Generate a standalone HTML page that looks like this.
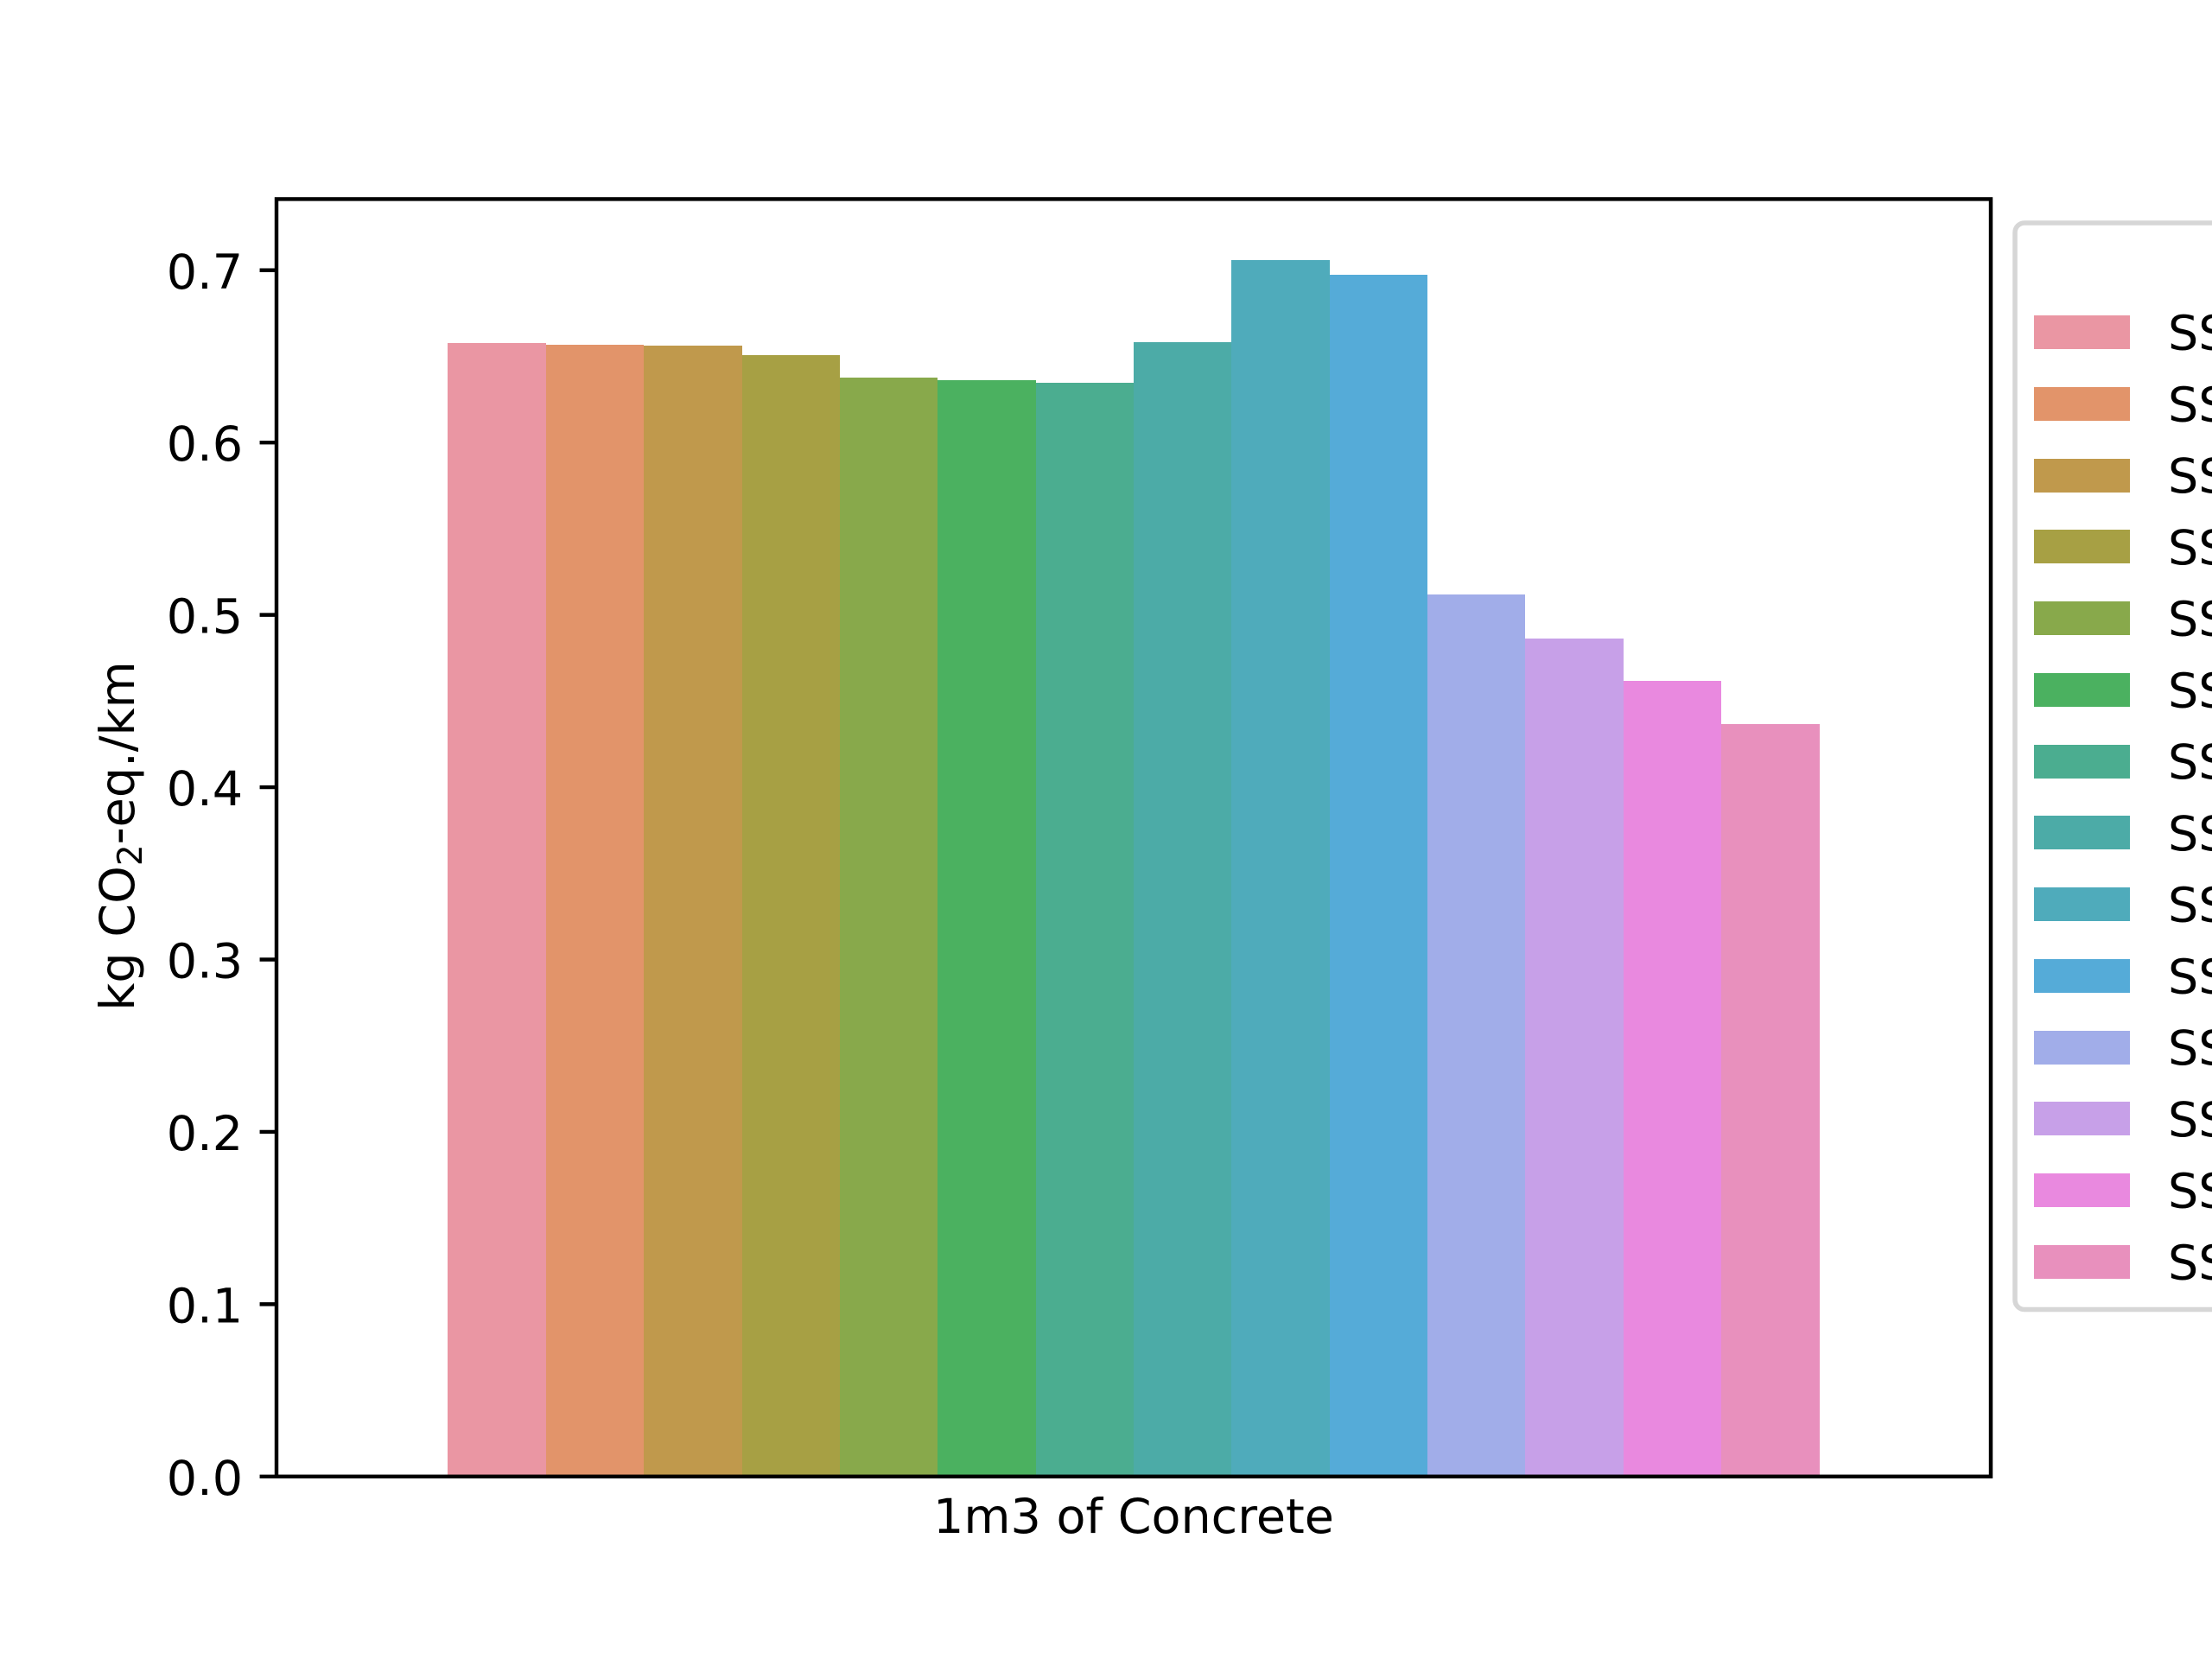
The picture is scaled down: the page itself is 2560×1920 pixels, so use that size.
<!DOCTYPE html>
<html lang="en">
<head>
<meta charset="utf-8">
<title>1m3 of Concrete bar chart</title>
<style>
  html, body { margin: 0; padding: 0; background: #fff; }
  body { width: 2560px; height: 1920px; overflow: hidden; }
  svg { display: block; }
  text { font-family: "DejaVu Sans", "Liberation Sans", sans-serif; fill: #000; }
</style>
</head>
<body>
<svg id="chart" xmlns="http://www.w3.org/2000/svg" width="2560" height="1920" viewBox="0 0 2560 1920">
  <rect x="0" y="0" width="2560" height="1920" fill="#ffffff"/>
  <g id="bars"></g>
  <g id="y-ticks"></g>
  <rect x="320" y="230.4" width="1984" height="1478.4" fill="none" stroke="#000" stroke-width="4.44"/>
  <text x="1312" y="1774" text-anchor="middle" font-size="55.56">1m3 of Concrete</text>
  <text transform="translate(155 967.5) rotate(-90)" text-anchor="middle" font-size="55.56">kg CO<tspan font-size="38.9" dy="9">2</tspan><tspan dy="-9">-eq./km</tspan></text>
  <rect x="2332" y="258" width="300" height="1257.5" rx="11" ry="11" fill="#ffffff" stroke="#d6d6d6" stroke-width="5.55"/>
  <g id="legend"></g>
</svg>
<script>
const categories = ["SS", "SS", "SS", "SS", "SS", "SS", "SS", "SS", "SS", "SS", "SS", "SS", "SS", "SS"];
const seriesValues = [0.6577, 0.6567, 0.6562, 0.6507, 0.6377, 0.6362, 0.6347, 0.6582, 0.7059, 0.6974, 0.5118, 0.4863, 0.4617, 0.4366];
const seriesColors = ["#ea96a3", "#e2946a", "#c0994c", "#a7a044", "#88a94b", "#4bb160", "#4bad90", "#4caba7", "#4fabbb", "#55abd8", "#a1ade9", "#c7a0e8", "#e989df", "#e890bd"];
const yTickValues = [0, 0.1, 0.2, 0.3, 0.4, 0.5, 0.6, 0.7];
const yTickLabels = ["0.0", "0.1", "0.2", "0.3", "0.4", "0.5", "0.6", "0.7"];

const SVG_NS = "http://www.w3.org/2000/svg";
const plot = { left: 320, right: 2304, top: 230.4, bottom: 1708.8 };
const yMax = 0.7413;
const groupWidth = 0.8;

function yScale(v) {
  return plot.bottom - (v / yMax) * (plot.bottom - plot.top);
}
function xScale(i) {
  const full = plot.right - plot.left;
  const band = full * groupWidth / seriesValues.length;
  return plot.left + full * (1 - groupWidth) / 2 + i * band;
}
function make(tag, attrs) {
  const el = document.createElementNS(SVG_NS, tag);
  Object.keys(attrs).forEach(function (k) { el.setAttribute(k, attrs[k]); });
  return el;
}

const barsGroup = document.getElementById("bars");
seriesValues.forEach(function (v, i) {
  const x0 = Math.round(xScale(i));
  const x1 = Math.round(xScale(i + 1));
  const y0 = Math.round(yScale(v));
  const bar = make("rect", { x: x0, y: y0, width: x1 - x0, height: plot.bottom - y0, fill: seriesColors[i], "shape-rendering": "crispEdges" });
  
  
  barsGroup.appendChild(bar);
});

const tickGroup = document.getElementById("y-ticks");
yTickValues.forEach(function (v, i) {
  const y = yScale(v);
  const tick = make("line", { x1: plot.left - 19.44, x2: plot.left, y1: y, y2: y, stroke: "#000", "stroke-width": 4.44 });
  
  
  tickGroup.appendChild(tick);
  const label = make("text", { x: plot.left - 38.9, y: y + 21, "text-anchor": "end", "font-size": 55.56 });
  
  
  label.textContent = yTickLabels[i];
  tickGroup.appendChild(label);
});

const legendGroup = document.getElementById("legend");
categories.forEach(function (name, i) {
  const top = 365 + i * 82.77;
  const swatch = make("rect", { x: 2354, y: Math.round(top), width: 111, height: 39, fill: seriesColors[i], "shape-rendering": "crispEdges" });
  
  
  legendGroup.appendChild(swatch);
  const entry = make("text", { x: 2509, y: top + 39.5, "font-size": 55.56 });
  
  
  entry.textContent = name;
  legendGroup.appendChild(entry);
});
</script>
</body>
</html>
